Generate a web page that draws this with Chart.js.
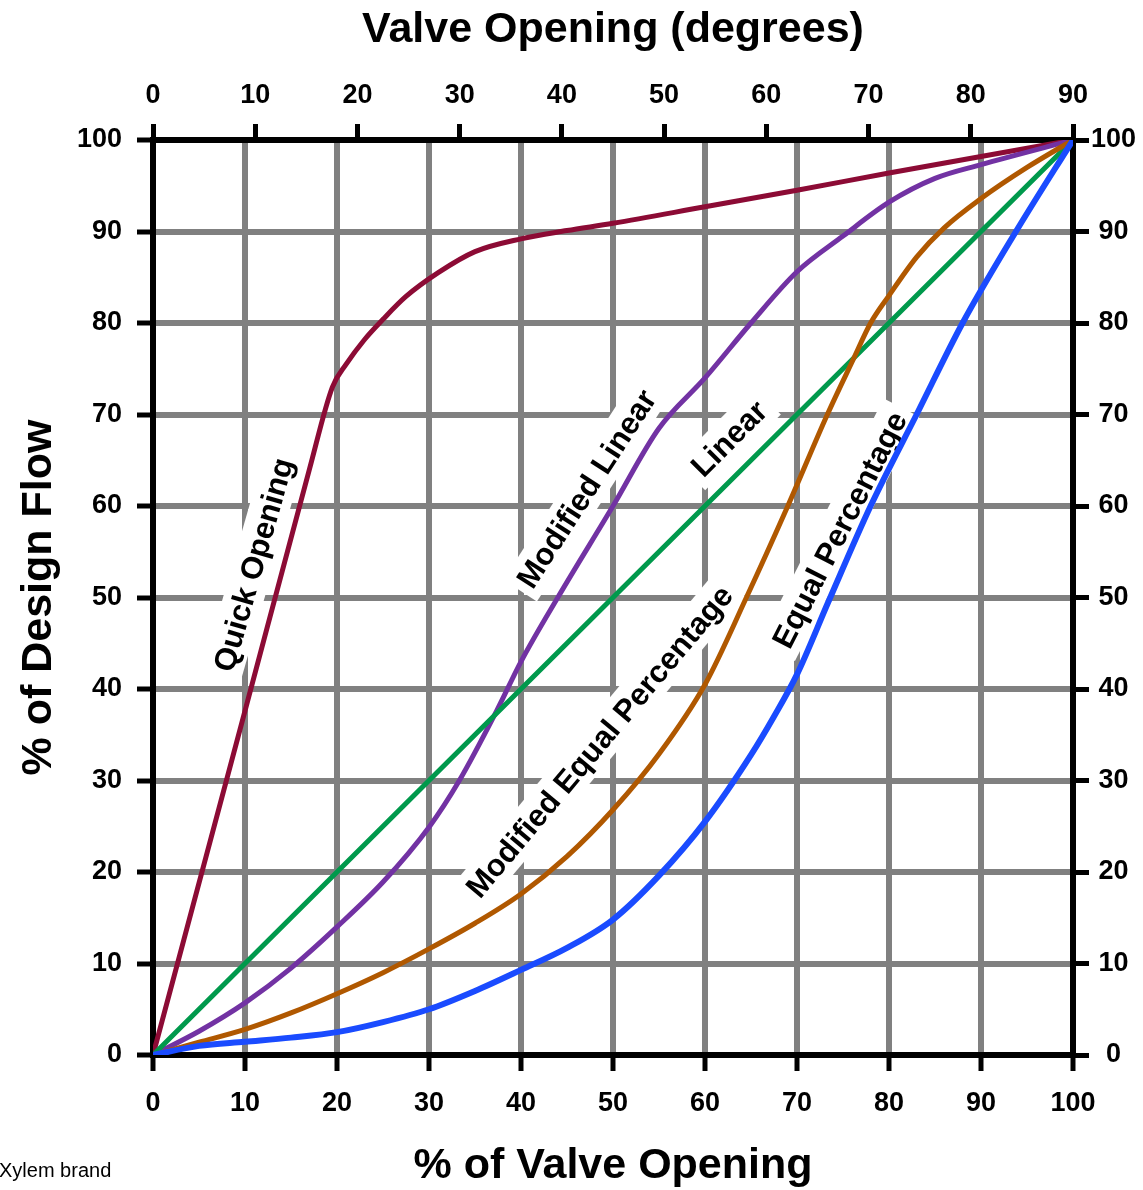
<!DOCTYPE html>
<html>
<head>
<meta charset="utf-8">
<title>Valve Flow Characteristics</title>
<script src="https://cdn.jsdelivr.net/npm/chart.js@4.4.1/dist/chart.umd.min.js"></script>
<style>
  html, body { margin: 0; padding: 0; background: #ffffff; }
  canvas { display: block; }
</style>
</head>
<body>
<canvas id="flowChart" width="1143" height="1190"></canvas>
<script>
// Flow characteristic curves: [% valve opening, % of design flow]
const quickOpening = [
  [0, 0], [10, 37.6], [17, 64], [19.5, 73], [21, 75.5], [23, 78.2], [25, 80.4],
  [27.5, 82.9], [31, 85.5], [35, 87.8], [40, 89.2], [45, 90.1], [50, 90.9],
  [60, 92.7], [70, 94.5], [80, 96.4], [90, 98.2], [100, 100]
];
const modifiedLinear = [
  [0, 0], [5, 2.6], [10, 5.7], [15, 9.5], [20, 14], [25, 18.9], [30, 24.9],
  [33.3, 30], [37.3, 37.5], [40, 43], [44, 50], [50, 60], [55, 68.5], [60, 74],
  [65, 80], [70, 85.6], [75, 89.5], [80, 93.2], [85, 95.8], [90, 97.3], [100, 100]
];
const linear = [
  [0, 0], [100, 100]
];
const modifiedEqualPercentage = [
  [0, 0], [5, 1.4], [10, 2.8], [15, 4.6], [20, 6.7], [25, 9], [30, 11.6],
  [35, 14.4], [40, 17.6], [45, 21.7], [50, 26.8], [55, 32.9], [60, 40.5],
  [64.5, 50], [69, 60], [73.3, 70], [76.2, 76.2], [78, 80], [80, 83],
  [83, 87.2], [86, 90.4], [90, 93.6], [95, 97], [100, 100]
];
const equalPercentage = [
  [0, 0], [5, 1], [10, 1.45], [15, 1.9], [20, 2.5], [25, 3.6], [30, 5],
  [35, 7], [40, 9.3], [45, 11.7], [50, 14.8], [55, 19.6], [60, 25.5], [65, 32.8],
  [67.5, 37], [70, 41.6], [73.4, 49.5], [78, 60], [83, 70], [88, 80], [93.8, 90], [100, 100]
];

// Axis ranges and tick steps
const percentRange = [0, 100];
const degreeRange = [0, 90];
const tickStep = 10;

// Curve captions: text, anchor in data units, rotation in degrees
const captionTexts = ['Quick Opening', 'Modified Linear', 'Linear', 'Modified Equal Percentage', 'Equal Percentage'];
const captionAnchors = [[10.9, 53.6], [47.1, 61.9], [62.6, 67.4], [48.5, 34.3], [74.6, 57.4]];
const captionAngles = [-74, -57, -45, -50, -63];

const FONT = '"Liberation Sans", Arial, Helvetica, sans-serif';
const GRID_GRAY = '#808080';

function toPoints(pairs) {
  return pairs.map(([x, y]) => ({ x, y }));
}

function curve(label, pairs, color, width, smooth) {
  return {
    label,
    data: toPoints(pairs),
    borderColor: color,
    backgroundColor: color,
    borderWidth: width,
    showLine: true,
    fill: false,
    pointRadius: 0,
    pointHoverRadius: 0,
    tension: smooth ? 0.4 : 0,
    cubicInterpolationMode: smooth ? 'monotone' : 'default',
    borderCapStyle: 'round',
    borderJoinStyle: 'round',
    xAxisID: 'x',
    yAxisID: 'y'
  };
}

// Captions sit on a white plate that interrupts the grid behind them
const captionPlugin = {
  id: 'curveCaptions',
  beforeDatasetsDraw(chart) {
    const { ctx, scales } = chart;
    ctx.save();
    ctx.font = 'bold 31px ' + FONT;
    ctx.textAlign = 'center';
    ctx.textBaseline = 'middle';
    captionTexts.forEach((text, i) => {
      const px = scales.x.getPixelForValue(captionAnchors[i][0]);
      const py = scales.y.getPixelForValue(captionAnchors[i][1]);
      const w = ctx.measureText(text).width;
      ctx.save();
      ctx.translate(px, py);
      ctx.rotate(captionAngles[i] * Math.PI / 180);
      ctx.fillStyle = '#ffffff';
      ctx.fillRect(-w / 2 - 7, -20, w + 14, 40);
      ctx.fillStyle = '#000000';
      ctx.fillText(text, 0, 2);
      ctx.restore();
    });
    ctx.restore();
  },
  afterDraw(chart) {
    const { ctx } = chart;
    ctx.save();
    ctx.font = '20px ' + FONT;
    ctx.fillStyle = '#000000';
    ctx.textAlign = 'left';
    ctx.textBaseline = 'alphabetic';
    ctx.fillText('Xylem brand', -1, 1177);
    ctx.restore();
  }
};

const tickFont = { family: FONT, size: 27, weight: 'bold' };
const titleFont = { family: FONT, size: 43, weight: 'bold' };

new Chart(document.getElementById('flowChart'), {
  type: 'scatter',
  data: {
    datasets: [
      curve('Equal Percentage', equalPercentage, '#1a4bff', 6, true),
      curve('Modified Equal Percentage', modifiedEqualPercentage, '#b05800', 5, true),
      curve('Linear', linear, '#00994c', 5, false),
      curve('Modified Linear', modifiedLinear, '#7232a3', 5, true),
      curve('Quick Opening', quickOpening, '#8c0b35', 5, true)
    ]
  },
  options: {
    responsive: false,
    animation: false,
    events: [],
    layout: { padding: 0 },
    plugins: {
      legend: { display: false },
      tooltip: { enabled: false },
      title: { display: false }
    },
    scales: {
      x: {
        type: 'linear',
        position: 'bottom',
        min: percentRange[0],
        max: percentRange[1],
        afterFit(scale) { scale.height = 135; },
        ticks: { stepSize: tickStep, color: '#000', font: tickFont, padding: 16, maxRotation: 0 },
        grid: { color: GRID_GRAY, lineWidth: 6, drawTicks: true, tickLength: 16, tickColor: '#000', tickWidth: 5 },
        border: { display: true, color: '#000', width: 6 },
        title: { display: true, text: '% of Valve Opening', color: '#000', font: titleFont, padding: { top: 0, bottom: -2 } }
      },
      x2: {
        type: 'linear',
        position: 'top',
        min: degreeRange[0],
        max: degreeRange[1],
        afterFit(scale) { scale.height = 140; },
        ticks: { stepSize: tickStep, color: '#000', font: tickFont, padding: 12, maxRotation: 0 },
        grid: { drawOnChartArea: false, drawTicks: true, tickLength: 16, tickColor: '#000', tickWidth: 5, color: '#000' },
        border: { display: true, color: '#000', width: 6 },
        title: { display: true, text: 'Valve Opening (degrees)', color: '#000', font: titleFont, padding: { top: 4, bottom: 0 } }
      },
      y: {
        type: 'linear',
        position: 'left',
        min: percentRange[0],
        max: percentRange[1],
        afterFit(scale) { scale.width = 153; },
        ticks: { stepSize: tickStep, color: '#000', font: tickFont, padding: 15 },
        grid: { color: GRID_GRAY, lineWidth: 6, drawTicks: true, tickLength: 16, tickColor: '#000', tickWidth: 5 },
        border: { display: true, color: '#000', width: 6 },
        title: { display: true, text: '% of Design Flow', color: '#000', font: titleFont, padding: { top: 13, bottom: 0 } }
      },
      y2: {
        type: 'linear',
        position: 'right',
        min: percentRange[0],
        max: percentRange[1],
        afterFit(scale) { scale.width = 70; },
        ticks: { stepSize: tickStep, color: '#000', font: tickFont, padding: 2, crossAlign: 'center' },
        grid: { drawOnChartArea: false, drawTicks: true, tickLength: 16, tickColor: '#000', tickWidth: 5, color: '#000' },
        border: { display: true, color: '#000', width: 6 }
      }
    }
  },
  plugins: [captionPlugin]
});
</script>
</body>
</html>
